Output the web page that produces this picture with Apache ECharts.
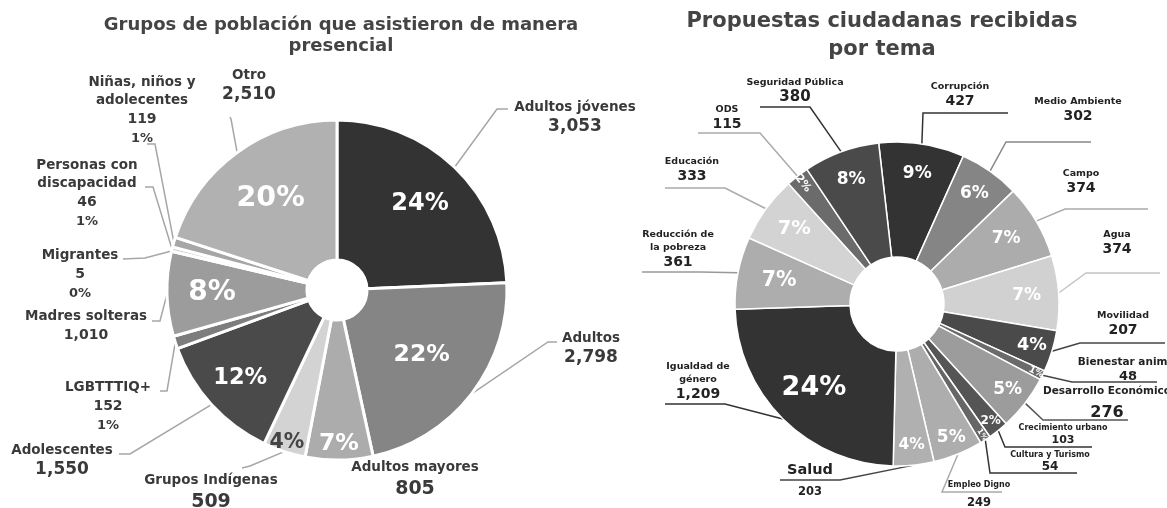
<!DOCTYPE html>
<html>
<head>
<meta charset="utf-8">
<script src="https://cdn.jsdelivr.net/npm/echarts@6/dist/echarts.min.js"></script>
<style>
  html, body { margin: 0; background: #fff; }
  #main { width: 1167px; height: 508px; }
</style>
</head>
<body>
<div id="main"></div>
<script>
// --- datos: grupos de población (izquierda) ---
const grupos = ['Adultos jóvenes', 'Adultos', 'Adultos mayores', 'Grupos Indígenas', 'Adolescentes', 'LGBTTTIQ+',
  'Madres solteras', 'Migrantes', 'Personas con\ndiscapacidad', 'Niñas, niños y\nadolecentes', 'Otro']
const asistentes = [3053, 2798, 805, 509, 1550, 152, 1010, 5, 46, 119, 2510]
const asistentesPct = ['24%', '22%', '7%', '4%', '12%', '1%', '8%', '0%', '1%', '1%', '20%']

// --- datos: propuestas por tema (derecha) ---
const temas = ['Corrupción', 'Medio Ambiente', 'Campo', 'Agua', 'Movilidad', 'Bienestar animal', 'Desarrollo Económico',
  'Crecimiento urbano', 'Cultura y Turismo', 'Empleo Digno', 'Salud', 'Igualdad de\ngénero', 'Reducción de\nla pobreza',
  'Educación', 'ODS', 'Seguridad Pública']
const propuestas = [427, 302, 374, 374, 207, 48, 276, 103, 54, 249, 203, 1209, 361, 333, 115, 380]
const propuestasPct = ['9%', '6%', '7%', '7%', '4%', '1%', '5%', '2%', '1%', '5%', '4%', '24%', '7%', '7%', '2%', '8%']

// --- estilos ---
const FONT = 'DejaVu Sans'
const grisesIzq = ['#333333', '#858585', '#acacac', '#d3d3d3', '#4a4a4a', '#7d7d7d', '#9c9c9c', '#c8c8c8', '#bdbdbd', '#a6a6a6', '#b1b1b1']
const grisesDer = ['#333333', '#858585', '#acacac', '#d1d1d1', '#4a4a4a', '#6b6b6b', '#9c9c9c', '#555555', '#666666',
  '#adadad', '#b0b0b0', '#333333', '#adadad', '#d3d3d3', '#6b6b6b', '#4a4a4a']

const centroIzq = [337, 290]
const centroDer = [897, 304]

// posicion de etiquetas externas (izquierda): centro x, borde superior, estilo del valor, linea [finX, finY, codoX, codoY]
const etqIzq = [
  {x: 575, y: 98, v: 'b', line: [508, 109, 497, 109]},
  {x: 591, y: 329, v: 'b', line: [557, 342, 548, 342]},
  {x: 415, y: 458, v: 'c', line: null},
  {x: 211, y: 471, v: 'c', line: [242, 468, 250, 466]},
  {x: 62, y: 441, v: 'b', line: [119, 454, 130, 454]},
  {x: 108, y: 378, v: 'a', line: [160, 391, 167, 391]},
  {x: 86, y: 307, v: 'a', line: [152, 321, 160, 321]},
  {x: 80, y: 246, v: 'a', line: [123, 259, 145, 258]},
  {x: 87, y: 156, v: 'a', line: [145, 187, 153, 187]},
  {x: 142, y: 73, v: 'a', line: [147, 144, 155, 144]},
  {x: 249, y: 66, v: 'b', line: [230, 117, 231, 119]},
]
// (derecha): centro x, borde superior, estilos, subrayado [cercaX, y, lejosX], color de linea
const etqDer = [
  {x: 960, y: 80.5, n: 'n', v: 'v', line: [923, 113, 1008], c: '#333'},
  {x: 1078, y: 95, n: 'n', v: 'v', line: [1006, 142, 1091], c: '#888'},
  {x: 1081, y: 167, n: 'n', v: 'v', line: [1065, 209, 1148], c: '#aaa'},
  {x: 1117, y: 228.5, n: 'n', v: 'v', line: [1086, 273, 1160], c: '#c4c4c4'},
  {x: 1123, y: 309.5, n: 'n', v: 'v', line: [1080, 343, 1165], c: '#444'},
  {x: 1128, y: 355, n: 'm', v: 'u', line: [1072, 382, 1157], c: '#444'},
  {x: 1107, y: 384, n: 'm', v: 'w', line: [1043, 420, 1128], c: '#555'},
  {x: 1063, y: 422.5, n: 's', v: 'x', line: [1005, 447, 1092], c: '#333'},
  {x: 1050, y: 449.5, n: 's', v: 'y', line: [990, 473, 1077], c: '#333'},
  {x: 979, y: 479.5, n: 's', v: 'z', line: [942, 492, 1002], c: '#aaa'},
  {x: 810, y: 460, n: 'S', v: 'z', line: [840, 480, 780], c: '#444'},
  {x: 698, y: 360.5, n: 'n', v: 'v', line: [725, 404, 665], c: '#333'},
  {x: 678, y: 228.5, n: 'n', v: 'v', line: [700, 272, 642], c: '#999'},
  {x: 692, y: 155.5, n: 'n', v: 'v', line: [725, 188, 665], c: '#aaa'},
  {x: 727, y: 103.5, n: 'n', v: 'v', line: [760, 133, 698], c: '#aaa'},
  {x: 795, y: 76.5, n: 'n', v: 'V', line: [810, 107, 760], c: '#333'},
]

// porcentajes internos: tamaño y distancia al centro
const pctTamIzq = [24, 23.5, 23.5, 20.5, 22.5, 0, 28, 0, 0, 0, 28.5]
const pctDistIzq = [120, 107, 154, 161, 131, 0, 125, 0, 0, 0, 113]
const pctTamDer = [17, 17, 17, 17, 17.5, 9, 17, 12, 7.5, 17, 15.5, 27, 20.5, 19.5, 11, 17]
const pctDistDer = [132, 135, 127, 130, 141, 155, 140, 150, 156, 144, 142, 118, 120, 127, 153, 133]
const pctGirados = [5, 8, 14]

const totalIzq = asistentes.reduce((a, b) => a + b, 0)
const fmt = n => n.toLocaleString('en-US')

function rs(size, lh, color) {
  return {fontSize: size, lineHeight: lh, fontWeight: 'bold', color: color, fontFamily: FONT, align: 'center'}
}

const richIzq = {
  n: rs(13.5, 18, '#3a3a3a'), a: rs(14, 20, '#3a3a3a'), b: rs(17, 21, '#3a3a3a'),
  c: rs(19, 26, '#3a3a3a'), p: rs(13, 20, '#3a3a3a')
}
const richDer = {
  n: rs(9.5, 13, '#222'), m: rs(10.5, 14, '#222'), s: rs(8, 11, '#222'), S: rs(14.5, 20, '#222'),
  v: rs(14, 16, '#222'), V: rs(15, 16, '#222'), u: rs(13, 15, '#222'), w: rs(16, 30, '#222'),
  x: rs(11, 13, '#222'), y: rs(12, 13, '#222'), z: rs(11.5, 25, '#222')
}

function moverRadial(centro, dist) {
  return function (p) {
    const d = dist[p.dataIndex]
    if (!d) return {}
    const r = p.labelRect
    const ang = Math.atan2(r.y + r.height / 2 - centro[1], r.x + r.width / 2 - centro[0])
    return {x: centro[0] + d * Math.cos(ang), y: centro[1] + d * Math.sin(ang), align: 'center', verticalAlign: 'middle'}
  }
}

const chart = echarts.init(document.getElementById('main'), null, {renderer: 'canvas'})

chart.setOption({
  animation: false,
  textStyle: {fontFamily: FONT},
  title: [
    {
      text: 'Grupos de población que asistieron de manera\npresencial',
      left: 336, top: 10, textAlign: 'center',
      textStyle: {fontFamily: FONT, fontSize: 18, lineHeight: 21, fontWeight: 'bold', color: '#444'}
    },
    {
      text: 'Propuestas ciudadanas recibidas\npor tema',
      left: 877, top: 3, textAlign: 'center',
      textStyle: {fontFamily: FONT, fontSize: 21, lineHeight: 28, fontWeight: 'bold', color: '#444'}
    }
  ],
  series: [
    {
      name: 'Grupos',
      type: 'pie',
      center: centroIzq,
      radius: [30, 170],
      startAngle: 90,
      avoidLabelOverlap: false,
      itemStyle: {borderColor: '#fff', borderWidth: 3},
      label: {
        show: true,
        position: 'outside',
        width: 240,
        overflow: 'none',
        formatter: p => {
          const L = etqIzq[p.dataIndex]
          let s = p.name.split('\n').map(t => '{n|' + t + '}').join('\n') + '\n{' + L.v + '|' + fmt(p.value) + '}'
          if (p.value / totalIzq < 0.02) s += '\n{p|' + asistentesPct[p.dataIndex] + '}'
          return s
        },
        rich: richIzq
      },
      labelLine: {show: true, length: 0, length2: 0, lineStyle: {color: '#a6a6a6', width: 1.5}},
      labelLayout: p => {
        const L = etqIzq[p.dataIndex]
        const out = {x: L.x, y: L.y, align: 'center', verticalAlign: 'top'}
        if (L.line && p.labelLinePoints) {
          out.labelLinePoints = [p.labelLinePoints[0], [L.line[2], L.line[3]], [L.line[0], L.line[1]]]
        }
        return out
      },
      data: grupos.map((g, i) => ({
        name: g, value: asistentes[i],
        itemStyle: {color: grisesIzq[i]},
        labelLine: {show: !!etqIzq[i].line}
      }))
    },
    {
      name: 'GruposPct',
      type: 'pie',
      silent: true,
      center: centroIzq,
      radius: [30, 170],
      startAngle: 90,
      itemStyle: {color: 'transparent', borderWidth: 0},
      label: {position: 'inside', fontWeight: 'bold', fontFamily: FONT},
      labelLine: {show: false},
      labelLayout: moverRadial(centroIzq, pctDistIzq),
      data: grupos.map((g, i) => ({
        name: g, value: asistentes[i],
        label: {
          show: pctTamIzq[i] > 0,
          formatter: asistentesPct[i],
          fontSize: pctTamIzq[i] || 12,
          color: i === 3 ? '#444' : '#fff'
        }
      }))
    },
    {
      name: 'Temas',
      type: 'pie',
      center: centroDer,
      radius: [47, 162],
      startAngle: 96.5,
      avoidLabelOverlap: false,
      itemStyle: {borderColor: '#fff', borderWidth: 1.5},
      label: {
        show: true,
        position: 'outside',
        width: 240,
        overflow: 'none',
        formatter: p => {
          const L = etqDer[p.dataIndex]
          return p.name.split('\n').map(t => '{' + L.n + '|' + t + '}').join('\n') + '\n{' + L.v + '|' + fmt(p.value) + '}'
        },
        rich: richDer
      },
      labelLine: {show: true, length: 0, length2: 0, lineStyle: {width: 1.5}},
      labelLayout: p => {
        const L = etqDer[p.dataIndex]
        const out = {x: L.x, y: L.y, align: 'center', verticalAlign: 'top'}
        if (p.labelLinePoints) {
          out.labelLinePoints = [p.labelLinePoints[0], [L.line[0], L.line[1]], [L.line[2], L.line[1]]]
        }
        return out
      },
      data: temas.map((t, i) => ({
        name: t, value: propuestas[i],
        itemStyle: {color: grisesDer[i]},
        labelLine: {lineStyle: {color: etqDer[i].c}}
      }))
    },
    {
      name: 'TemasPct',
      type: 'pie',
      silent: true,
      center: centroDer,
      radius: [47, 162],
      startAngle: 96.5,
      itemStyle: {color: 'transparent', borderWidth: 0},
      label: {position: 'inside', fontWeight: 'bold', fontFamily: FONT, color: '#fff'},
      labelLine: {show: false},
      labelLayout: moverRadial(centroDer, pctDistDer),
      data: temas.map((t, i) => ({
        name: t, value: propuestas[i],
        label: {
          formatter: propuestasPct[i],
          fontSize: pctTamDer[i],
          rotate: pctGirados.includes(i) ? 'radial' : 0
        }
      }))
    }
  ]
})
</script>
</body>
</html>
